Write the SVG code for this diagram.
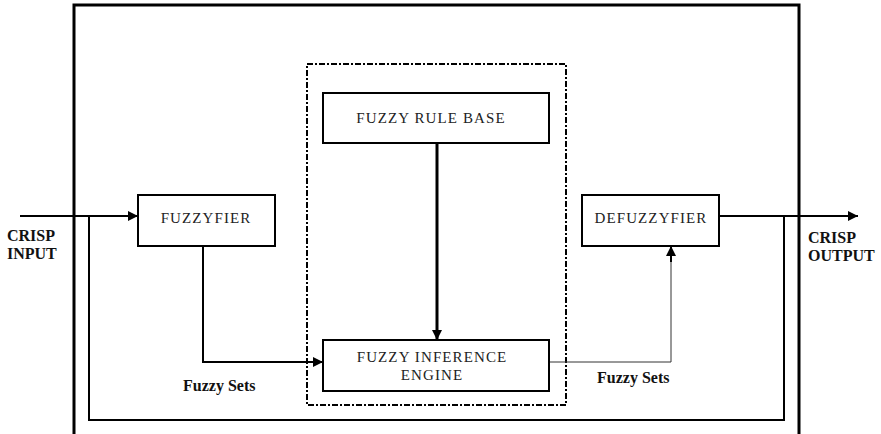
<svg xmlns="http://www.w3.org/2000/svg" width="881" height="434" viewBox="0 0 881 434">
  <style>
    .box { fill: #fff; stroke: #000; stroke-width: 2; }
    .lbl { font-family: "Liberation Serif", "Times New Roman", serif; font-size: 15px; fill: #222; letter-spacing: 1.1px; }
    .cap { font-family: "Liberation Serif", "Times New Roman", serif; font-size: 16px; font-weight: bold; fill: #111; }
    .wire { fill: none; stroke: #000; stroke-width: 2; }
    .thin { fill: none; stroke: #333; stroke-width: 1; }
  </style>
  <defs>
    <marker id="arr" viewBox="0 0 10 10" refX="10" refY="5" markerWidth="10" markerHeight="10" markerUnits="userSpaceOnUse" orient="auto">
      <path d="M0,0 L10,5 L0,10 z" fill="#000"/>
    </marker>
  </defs>
  <rect width="881" height="434" fill="#fff"/>

  <!-- outer frame (open at the bottom) -->
  <path id="frame" d="M74,434 V5 H799 V434" fill="none" stroke="#000" stroke-width="3"/>

  <!-- dash-dot enclosure around rule base and inference engine -->
  <rect id="core" x="307" y="64" width="259" height="341" fill="none" stroke="#000" stroke-width="2" stroke-dasharray="6,2,2,2"/>

  <g id="connectors">
    <!-- crisp input -->
    <line class="wire" x1="20" y1="216" x2="138" y2="216" marker-end="url(#arr)"/>
    <!-- feedback loop -->
    <path class="wire" d="M89,216 V420 H784 V216"/>
    <!-- crisp output -->
    <line class="wire" x1="719" y1="216" x2="858" y2="216" marker-end="url(#arr)"/>
    <!-- fuzzyfier to inference engine -->
    <path class="wire" d="M203,246 V362 H323" marker-end="url(#arr)"/>
    <!-- rule base to inference engine -->
    <line fill="none" stroke="#000" stroke-width="3" x1="437" y1="143" x2="437" y2="340" marker-end="url(#arr)"/>
    <!-- inference engine to defuzzyfier -->
    <path class="thin" d="M549,362 H671 V246"/>
    <line class="wire" x1="671" y1="262" x2="671" y2="246" marker-end="url(#arr)"/>
  </g>

  <g id="fuzzyfier">
    <rect class="box" x="138" y="195" width="137" height="51"/>
    <text class="lbl" x="206" y="223" text-anchor="middle">FUZZYFIER</text>
  </g>

  <g id="rule-base">
    <rect class="box" x="323" y="93" width="226" height="50"/>
    <text class="lbl" x="431" y="123" text-anchor="middle">FUZZY RULE BASE</text>
  </g>

  <g id="inference-engine">
    <rect class="box" x="323" y="340" width="226" height="51"/>
    <text class="lbl" x="432" y="362" text-anchor="middle">FUZZY INFERENCE</text>
    <text class="lbl" x="432" y="380" text-anchor="middle">ENGINE</text>
  </g>

  <g id="defuzzyfier">
    <rect class="box" x="582" y="195" width="137" height="51"/>
    <text class="lbl" x="651" y="223" text-anchor="middle">DEFUZZYFIER</text>
  </g>

  <g id="labels">
    <text class="cap" x="7" y="241">CRISP</text>
    <text class="cap" x="7" y="259">INPUT</text>
    <text class="cap" x="808" y="243">CRISP</text>
    <text class="cap" x="808" y="261">OUTPUT</text>
    <text class="cap" x="183" y="391">Fuzzy Sets</text>
    <text class="cap" x="597" y="383">Fuzzy Sets</text>
  </g>
</svg>
